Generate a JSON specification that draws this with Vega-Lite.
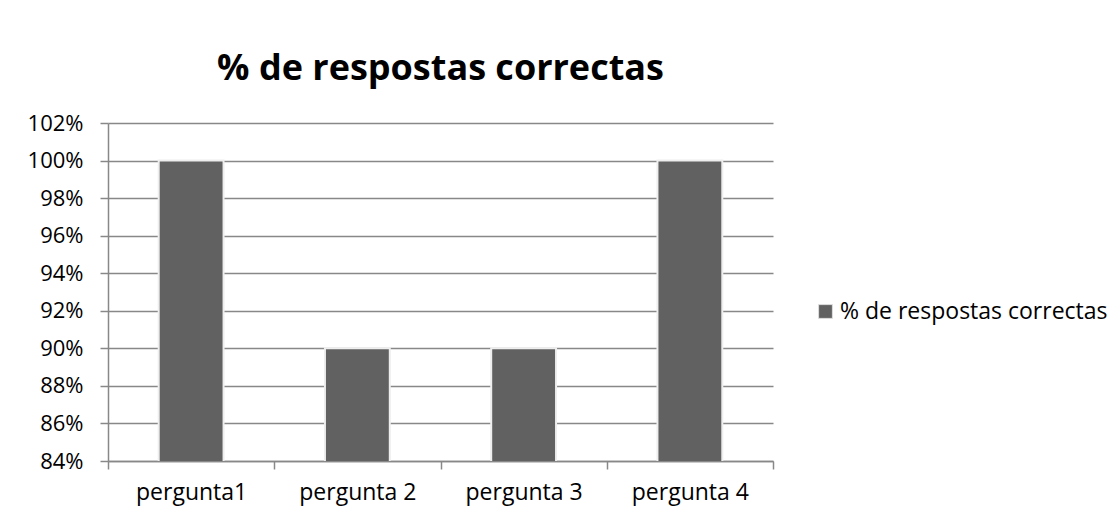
{
  "$schema": "https://vega.github.io/schema/vega-lite/v6.json",
  "autosize": {"type": "none"},
  "width": 665,
  "height": 338,
  "padding": {"left": 108, "top": 123, "right": 347, "bottom": 58},
  "background": "white",
  "title": {
    "text": "% de respostas correctas",
    "font": "Open Sans",
    "fontSize": 36,
    "fontWeight": "bold",
    "color": "#000000",
    "anchor": "middle",
    "offset": 24
  },
  "data": {
    "values": [
      {"pergunta": "pergunta1", "valor": 1.0, "serie": "% de respostas correctas"},
      {"pergunta": "pergunta 2", "valor": 0.9, "serie": "% de respostas correctas"},
      {"pergunta": "pergunta 3", "valor": 0.9, "serie": "% de respostas correctas"},
      {"pergunta": "pergunta 4", "valor": 1.0, "serie": "% de respostas correctas"}
    ]
  },
  "mark": {"type": "bar", "stroke": "#eeeeee", "strokeWidth": 2, "clip": true, "width": {"band": 0.39}},
  "encoding": {
    "x": {
      "field": "pergunta",
      "type": "nominal",
      "sort": null,
      "scale": {"paddingInner": 0, "paddingOuter": 0},
      "axis": {
        "title": null,
        "labelAngle": 0,
        "labelFont": "Open Sans",
        "labelFontSize": 23,
        "labelColor": "#000000",
        "labelPadding": 12,
        "tickBand": "extent",
        "tickSize": 8,
        "tickColor": "#888888",
        "tickWidth": 1.5,
        "domainColor": "#888888",
        "domainWidth": 1.5,
        "grid": false
      }
    },
    "y": {
      "field": "valor",
      "type": "quantitative",
      "scale": {"domain": [0.84, 1.02], "zero": false, "nice": false},
      "axis": {
        "title": null,
        "format": ".0%",
        "values": [0.84, 0.86, 0.88, 0.9, 0.92, 0.94, 0.96, 0.98, 1.0, 1.02],
        "labelFont": "Open Sans",
        "labelFontSize": 22,
        "labelColor": "#000000",
        "labelPadding": 17,
        "tickSize": 8,
        "tickColor": "#888888",
        "tickWidth": 1.5,
        "domainColor": "#888888",
        "domainWidth": 1.5,
        "grid": true,
        "gridColor": "#888888",
        "gridWidth": 1.5
      }
    },
    "color": {
      "field": "serie",
      "type": "nominal",
      "scale": {"range": ["#616161"]},
      "legend": {
        "title": null,
        "orient": "none",
        "legendX": 706,
        "legendY": 177,
        "symbolType": "square",
        "symbolSize": 190,
        "symbolStrokeColor": "#dddddd",
        "symbolStrokeWidth": 1,
        "labelFont": "Open Sans",
        "labelFontSize": 23,
        "labelColor": "#000000",
        "labelLimit": 400,
        "labelOffset": 3
      }
    }
  },
  "config": {
    "view": {"stroke": null}
  }
}
